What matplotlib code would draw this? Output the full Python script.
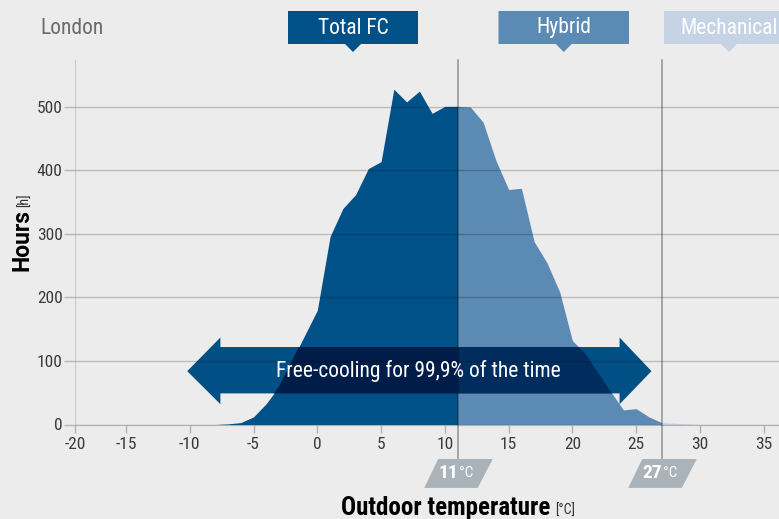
import matplotlib
matplotlib.use('Agg')
import matplotlib.pyplot as plt
from matplotlib import font_manager as fm
from matplotlib.patches import Polygon
import numpy as np

_available = {f.name for f in fm.fontManager.ttflist}
_prefs = ['Roboto Condensed', 'Liberation Sans Narrow', 'Barlow Semi Condensed',
          'Asap Condensed', 'Archivo Narrow']
FONT = next((p for p in _prefs if p in _available), 'DejaVu Sans')
WIDE = 'Roboto' if 'Roboto' in _available else 'DejaVu Sans'
plt.rcParams['font.family'] = [FONT, 'DejaVu Sans']

# ---------------- data ----------------
temps = [-8, -7, -6, -5, -4, -3, -2, -1, 0, 1, 2, 3, 4, 5, 6, 7, 8, 9, 10,
         11, 12, 13, 14, 15, 16, 17, 18, 19, 20, 21, 22, 23, 24, 25, 26, 27,
         28, 29, 30]
hours = [0, 1, 3, 12, 33, 60, 100, 140, 180, 296, 340, 362, 403, 414, 528,
         508, 525, 490, 501, 501, 500, 476, 416, 370, 372, 288, 255, 209, 132,
         112, 82, 52, 23, 25, 12, 3, 2, 1, 0]
thresholds = [11, 27]
threshold_labels = ['11', '27']
zone_names = ['Total FC', 'Hybrid', 'Mechanical']
zone_colors = ['#005187', '#5b8ab5', '#c5d3e5']
xtick_values = [-20, -15, -10, -5, 0, 5, 10, 15, 20, 25, 30, 35]
xtick_labels = ['-20', '-15', '-10', '-5', '0', '5', '10', '15', '20', '25', '30', '35']
ytick_values = [0, 100, 200, 300, 400, 500]
city = 'London'
arrow_text = 'Free-cooling for 99,9% of the time'

BG = '#ececec'
W, H = 779, 519


def fx(x):
    return x / W


def fy(y):
    return 1 - y / H


fig = plt.figure(figsize=(W / 100, H / 100), dpi=100, facecolor=BG)
ax = fig.add_axes([fx(75), fy(424.5), fx(779) - fx(75), fy(60) - fy(424.5)])
ax.set_facecolor(BG)

XMIN, XMAX = -19.0, 36.2
ax.set_xlim(XMIN, XMAX)
ax.set_ylim(0, 574)

t = np.array(temps)
h = np.array(hours)
masks = [t <= thresholds[0], (t >= thresholds[0]) & (t <= thresholds[1]), t >= thresholds[1]]
colls = []
for m, c in zip(masks, zone_colors):
    colls.append(ax.fill_between(t[m], 0, h[m], color=c, lw=0, zorder=1))

# ---------------- double arrow (multiply-like overlay) ----------------
tipL, baseL, baseR, tipR = -10.2, -7.6, 23.7, 26.2
yc, bodyTop, bodyBot, headTop, headBot = 84, 122, 49, 137, 32
verts = [(tipL, yc), (baseL, headTop), (baseL, bodyTop), (baseR, bodyTop),
         (baseR, headTop), (tipR, yc), (baseR, headBot), (baseR, bodyBot),
         (baseL, bodyBot), (baseL, headBot)]
ax.add_patch(Polygon(verts, closed=True, facecolor='#005086', lw=0, zorder=2))
for coll, c in zip(colls[:2], ['#001c48', '#002d5e']):
    p = Polygon(verts, closed=True, facecolor=c, lw=0, zorder=2.1)
    ax.add_patch(p)
    p.set_clip_path(coll.get_paths()[0], ax.transData)
ax.text(7.9, yc, arrow_text, color='white', fontsize=15.5,
        ha='center', va='center', zorder=6)

# ---------------- axes styling ----------------
ax.set_axisbelow(False)
ax.grid(axis='y', color='black', alpha=0.2, lw=1)
ax.grid(axis='x', visible=False)
ax.set_yticks(ytick_values)
ax.set_yticklabels([str(v) for v in ytick_values])
ax.set_xticks([max(v, XMIN) for v in xtick_values])
ax.set_xticklabels(xtick_labels)
ax.tick_params(axis='y', colors='#b8b8b8', labelcolor='#3a3a3a', labelsize=12.5,
               length=8, pad=1, width=1)
ax.tick_params(axis='x', colors='#b0b0b0', labelcolor='#3a3a3a', labelsize=12.5,
               length=6, pad=3, width=1)
for s in ['top', 'right']:
    ax.spines[s].set_visible(False)
ax.spines['left'].set_color('#c8c8c8')
ax.spines['bottom'].set_color('#b0b0b0')

# threshold lines and labels
xt = ax.get_xaxis_transform()
for th, lab in zip(thresholds, threshold_labels):
    ax.axvline(th, ymin=-0.095, ymax=1, color='black', alpha=0.38, lw=1.1,
               clip_on=False, zorder=4)
    poly = Polygon([(th - 1.52, -0.0947), (th + 2.75, -0.0947),
                    (th + 1.58, -0.174), (th - 2.62, -0.174)],
                   closed=True, transform=xt, facecolor='#aab2ba', lw=0,
                   clip_on=False, zorder=5)
    ax.add_patch(poly)
    ax.text(th + 0.05, -0.134, lab, transform=xt, ha='right', va='center',
            color='white', fontsize=14, fontweight='bold', zorder=6)
    ax.text(th + 0.1, -0.134, '°C', transform=xt, ha='left', va='center',
            color='white', fontsize=11, zorder=6)

# ---------------- header ----------------
fig.text(fx(40), fy(28), city, color='#6b6b6b', fontsize=15.5, ha='left', va='center')
box_x = [(288, 418), (498.5, 629), (664, 794)]
for (x0, x1), name, c in zip(box_x, zone_names, zone_colors):
    cx = (x0 + x1) / 2
    pts = [(x0, 11), (x1, 11), (x1, 44), (cx + 8, 44), (cx, 52), (cx - 8, 44), (x0, 44)]
    fig.patches.append(Polygon([(fx(a), fy(b)) for a, b in pts], closed=True,
                               transform=fig.transFigure, facecolor=c, lw=0))
    fig.text(fx(cx), fy(28), name, color='white', fontsize=15.5,
             ha='center', va='center')

# ---------------- axis titles ----------------
fig.text(fx(550), fy(515), 'Outdoor temperature', fontsize=18, fontweight='bold',
         ha='right', va='baseline', color='black')
fig.text(fx(555), fy(515), '[°C]', fontsize=10, ha='left', va='baseline', color='#333333')
fig.text(fx(29), fy(271), 'Hours', fontsize=16.5, fontweight='bold', rotation=90,
         family=[WIDE, 'DejaVu Sans'], rotation_mode='anchor', ha='left',
         va='baseline', color='black')
fig.text(fx(29), fy(207), '[h]', fontsize=10, rotation=90,
         rotation_mode='anchor', ha='left', va='baseline', color='#333333')

fig.savefig('out.png', dpi=100, facecolor=BG)
